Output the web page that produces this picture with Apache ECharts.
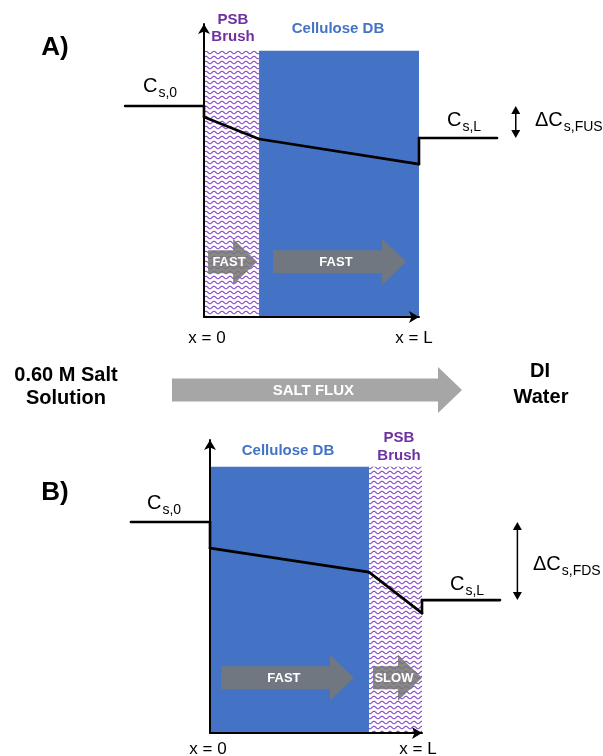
<!DOCTYPE html>
<html><head><meta charset="utf-8">
<script src="https://cdn.jsdelivr.net/npm/echarts@6/dist/echarts.min.js"></script>
<style>html,body{margin:0;padding:0;background:#fff}#c{width:603px;height:756px}</style>
</head><body><div id="c"></div>
<script>
// ---------------- data (axis units: x = position / L, y = concentration, arbitrary units) ----------------
const layerNamesA = ['PSB Brush', 'Cellulose DB'];
const layerBoundsA = [0, 0.256, 1];
const layerNamesB = ['Cellulose DB', 'PSB Brush'];
const layerBoundsB = [0, 0.75, 1];
const layerTop = 10;

const profileXA = [-0.367, 0, 0, 0.256, 1, 1, 1.363];
const profileYA = [7.92, 7.92, 7.51, 6.68, 5.74, 6.72, 6.72];
const profileXB = [-0.373, 0, 0, 0.75, 1, 1, 1.368];
const profileYB = [7.92, 7.92, 6.94, 6.04, 4.50, 4.99, 4.99];

const fluxLabelsA = ['FAST', 'FAST'];
const fluxStartA = [0.019, 0.321];
const fluxEndA = [0.247, 0.940];
const fluxLabelsB = ['FAST', 'SLOW'];
const fluxStartB = [0.052, 0.769];
const fluxEndB = [0.679, 1.0];
const fluxLevel = 2.07;

const saltFluxLabel = ['SALT FLUX'];
const saltFluxStart = [-0.149];
const saltFluxEnd = [1.2];
const saltFluxLevel = -2.74;

const deltaX = 1.45;

// ---------------- styles ----------------
const FONT = '"Liberation Sans", Arial, Helvetica, sans-serif';
const BLUE = '#4472C4';
const PURPLE = '#7030A0';

function makeWave() {
  const c = document.createElement('canvas');
  c.width = 8; c.height = 5;
  const g = c.getContext('2d');
  g.fillStyle = '#fff'; g.fillRect(0, 0, 8, 5);
  g.strokeStyle = '#8a4ccb'; g.lineWidth = 1.1;
  g.beginPath();
  for (let i = -1; i <= 9; i += 0.5) {
    const y = 2.5 + 1.25 * Math.sin(i / 8 * 2 * Math.PI);
    if (i === -1) g.moveTo(i, y); else g.lineTo(i, y);
  }
  g.stroke();
  return c;
}
const wave = makeWave();

const measureCtx = document.createElement('canvas').getContext('2d');
function textWidth(t, font) { measureCtx.font = font; return measureCtx.measureText(t).width; }

function layerSeries(gi, names, bounds) {
  return {
    type: 'custom', coordinateSystem: 'cartesian2d', xAxisIndex: gi, yAxisIndex: gi,
    z: 1, clip: false, silent: true,
    data: names.map((n, i) => [bounds[i], bounds[i + 1]]),
    renderItem: (params, api) => {
      const p0 = api.coord([api.value(0), 0]);
      const p1 = api.coord([api.value(1), layerTop]);
      const isBrush = names[params.dataIndex] === 'PSB Brush';
      return {
        type: 'rect',
        shape: { x: p0[0], y: p1[1], width: p1[0] - p0[0], height: p0[1] - p1[1] },
        style: { fill: isBrush ? { image: wave, repeat: 'repeat' } : BLUE }
      };
    }
  };
}

function arrowSeries(gi, labels, starts, ends, level, color, opacity, fontSize) {
  return {
    type: 'custom', coordinateSystem: 'cartesian2d', xAxisIndex: gi, yAxisIndex: gi,
    z: 3, clip: false, silent: true,
    data: labels.map((l, i) => [starts[i], ends[i], level]),
    renderItem: (params, api) => {
      const s = api.coord([api.value(0), api.value(2)]);
      const e = api.coord([api.value(1), api.value(2)]);
      const bh = 11.5, hh = 23, hl = 24;
      const x0 = s[0], x1 = e[0], y = s[1], xh = x1 - hl;
      return {
        type: 'group', children: [
          { type: 'polygon',
            shape: { points: [[x0, y - bh], [xh, y - bh], [xh, y - hh], [x1, y], [xh, y + hh], [xh, y + bh], [x0, y + bh]] },
            style: { fill: color, opacity: opacity } },
          { type: 'text',
            style: { text: labels[params.dataIndex], x: (x0 + x1) / 2 - 0.15 * hl, y: y + 0.5,
                     align: 'center', verticalAlign: 'middle', textAlign: 'center', textVerticalAlign: 'middle',
                     fill: '#fff', font: 'bold ' + fontSize + 'px ' + FONT } }
        ]
      };
    }
  };
}

function profileSeries(gi, xs, ys) {
  return {
    type: 'custom', coordinateSystem: 'cartesian2d', xAxisIndex: gi, yAxisIndex: gi,
    z: 5, clip: false, silent: true,
    data: xs.slice(0, -1).map((x, i) => [x, ys[i], xs[i + 1], ys[i + 1]]),
    renderItem: (params, api) => {
      const a = api.coord([api.value(0), api.value(1)]);
      const b = api.coord([api.value(2), api.value(3)]);
      return { type: 'line', shape: { x1: a[0], y1: a[1], x2: b[0], y2: b[1] },
               style: { stroke: '#000', lineWidth: 2.6, lineCap: 'round' } };
    }
  };
}

function deltaSeries(gi, ys) {
  return {
    type: 'custom', coordinateSystem: 'cartesian2d', xAxisIndex: gi, yAxisIndex: gi,
    z: 5, clip: false, silent: true,
    data: [[deltaX, ys[0], ys[ys.length - 1]]],
    renderItem: (params, api) => {
      const t = api.coord([api.value(0), api.value(1)]);
      const b = api.coord([api.value(0), api.value(2)]);
      const x = t[0], hw = 4.5, hl = 8;
      return {
        type: 'group', children: [
          { type: 'line', shape: { x1: x, y1: t[1] + 3, x2: x, y2: b[1] - 3 }, style: { stroke: '#000', lineWidth: 1.5 } },
          { type: 'polygon', shape: { points: [[x, t[1]], [x - hw, t[1] + hl], [x + hw, t[1] + hl]] }, style: { fill: '#000' } },
          { type: 'polygon', shape: { points: [[x, b[1]], [x - hw, b[1] - hl], [x + hw, b[1] - hl]] }, style: { fill: '#000' } }
        ]
      };
    }
  };
}

function axisCommon(gi, min, max) {
  return {
    type: 'value', gridIndex: gi, min: min, max: max, z: 10,
    axisLine: { show: true, onZero: false, lineStyle: { color: '#000', width: 2 }, symbol: ['none', 'arrow'], symbolSize: [9, 10] },
    axisTick: { show: false }, axisLabel: { show: false }, splitLine: { show: false }
  };
}

function txt(x, y, text, size, opts) {
  opts = opts || {};
  return {
    type: 'text', x: x, y: y, z: 20, silent: true,
    style: {
      text: text, fill: opts.color || '#000',
      font: (opts.bold ? 'bold ' : '') + size + 'px ' + FONT,
      align: opts.align || 'center', textAlign: opts.align || 'center',
      verticalAlign: 'middle', textVerticalAlign: 'middle'
    }
  };
}
function conc(xC, yC, main, sub) {
  const w = textWidth(main, '20px ' + FONT);
  return [txt(xC, yC, main, 20, { align: 'left' }), txt(xC + w + 1, yC + 7, sub, 14, { align: 'left' })];
}

const chart = echarts.init(document.getElementById('c'), null, { renderer: 'canvas' });
chart.setOption({
  animation: false,
  backgroundColor: '#fff',
  grid: [
    { left: 204, top: 24, width: 215, height: 293 },
    { left: 210, top: 440, width: 212, height: 293 }
  ],
  xAxis: [axisCommon(0, 0, 1), axisCommon(1, 0, 1)],
  yAxis: [axisCommon(0, 0, 11), axisCommon(1, 0, 11)],
  series: [
    layerSeries(0, layerNamesA, layerBoundsA),
    layerSeries(1, layerNamesB, layerBoundsB),
    arrowSeries(0, fluxLabelsA, fluxStartA, fluxEndA, fluxLevel, '#777', 0.88, 13),
    arrowSeries(1, fluxLabelsB, fluxStartB, fluxEndB, fluxLevel, '#777', 0.88, 13),
    arrowSeries(0, saltFluxLabel, saltFluxStart, saltFluxEnd, saltFluxLevel, '#a6a6a6', 1, 15),
    profileSeries(0, profileXA, profileYA),
    profileSeries(1, profileXB, profileYB),
    deltaSeries(0, profileYA),
    deltaSeries(1, profileYB)
  ],
  graphic: [
    txt(55, 48, 'A)', 26, { bold: true }),
    txt(233, 19.5, 'PSB', 15, { bold: true, color: PURPLE }),
    txt(233, 36.5, 'Brush', 15, { bold: true, color: PURPLE }),
    txt(338, 29, 'Cellulose DB', 15, { bold: true, color: BLUE }),
    ...conc(143, 86, 'C', 's,0'),
    ...conc(447, 120, 'C', 's,L'),
    ...conc(535, 120.5, '\u0394C', 's,FUS'),
    txt(207, 338, 'x = 0', 17),
    txt(414, 338, 'x = L', 17),

    txt(66, 375, '0.60 M Salt', 20, { bold: true }),
    txt(66, 398, 'Solution', 20, { bold: true }),
    txt(540, 371, 'DI', 20, { bold: true }),
    txt(541, 397, 'Water', 20, { bold: true }),

    txt(55, 493, 'B)', 26, { bold: true }),
    txt(288, 450.5, 'Cellulose DB', 15, { bold: true, color: BLUE }),
    txt(399, 438, 'PSB', 15, { bold: true, color: PURPLE }),
    txt(399, 456, 'Brush', 15, { bold: true, color: PURPLE }),
    ...conc(147, 503, 'C', 's,0'),
    ...conc(450, 584, 'C', 's,L'),
    ...conc(533, 564.5, '\u0394C', 's,FDS'),
    txt(208, 749, 'x = 0', 17),
    txt(418, 749, 'x = L', 17)
  ]
});
</script>
</body></html>
